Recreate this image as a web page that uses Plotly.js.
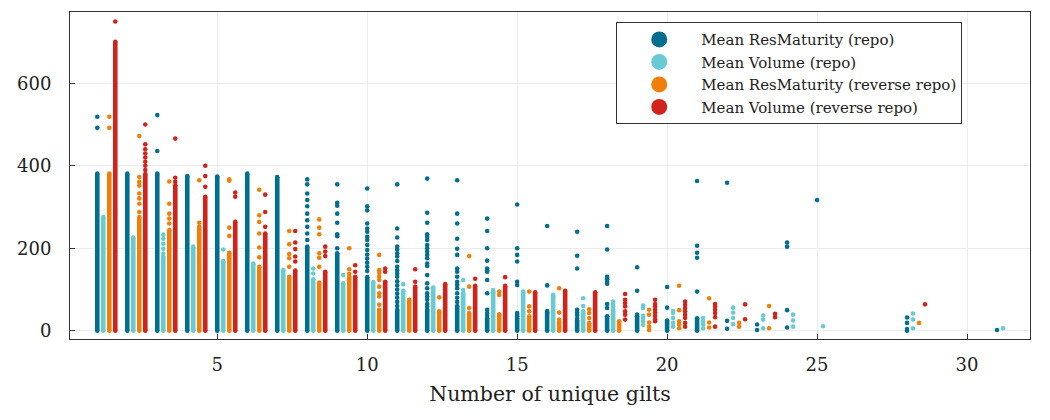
<!DOCTYPE html>
<html>
<head>
<meta charset="utf-8">
<script src="https://cdn.plot.ly/plotly-3.0.1.min.js"></script>
<style>html,body{margin:0;padding:0;background:#fff;}#chart{width:1050px;height:420px;}</style>
</head>
<body>
<div id="chart"></div>
<script>
// ---- Data ----
const seriesNames = [
  "Mean ResMaturity (repo)",
  "Mean Volume (repo)",
  "Mean ResMaturity (reverse repo)",
  "Mean Volume (reverse repo)"
];
// Group numbers (number of unique gilts) that have a dense, continuous band of values from 0 up to a top value
const repoMatBandG   = [1,2,3,4,5,6,7,8,9,10,11,12,13,14,15,16,17,18,19,20,21];
const repoMatBandTop = [381,381,381,375,374,381,373,204,188,130,51,51,60,31,31,44,25,35,35,25,30];
const repoVolBandG   = [1,2,3,4,5,6,7,8,9,10,11,12,13,14,15,16,17,18];
const repoVolBandTop = [276,226,180,204,169,163,147,125,115,118,97,105,91,95,93,85,47,47];
const revMatBandG    = [1,2,3,4,5,6,7,8,9,10,11,12,13,14,15,16,17,18];
const revMatBandTop  = [381,276,244,252,189,155,131,117,131,51,75,44,43,38,35,22,19,23];
const revVolBandG    = [1,2,3,4,5,6,7,8,9,10,11,12,13,14,15,16,17];
const revVolBandTop  = [701,380,353,325,264,236,146,143,131,119,107,113,109,109,93,97,93];

// Individual (sparse) points: group number and value
const repoMatPtsG = [1,1,3,3,
  8,8,8,8,8,8,8,8,8,8,
  9,9,9,9,9,9,9,9,
  10,10,10,10,10,10,10,10,10,10,10,10,10,10,10,
  11,11,11,11,11,11,11,11,11,11,11,11,11,11,11,11,11,11,11,
  12,12,12,12,12,12,12,12,12,12,12,12,12,12,12,12,12,12,12,12,12,
  13,13,13,13,13,13,13,13,13,13,13,13,13,13,13,
  14,14,14,14,14,14,14,14,14,14,14,14,
  15,15,15,15,15,15,15,15,15,
  16,16,16,
  17,17,17,17,17,17,17,
  18,18,18,18,18,18,18,18,
  19,19,19,
  20,20,
  21,21,21,21,21,
  22,22,22,
  23,23,
  24,24,24,24,
  25,
  28,28,28,28,
  31];
const repoMatPtsV = [519,492,523,436,
  367,355,333,317,302,284,268,252,236,220,
  355,310,303,284,262,234,229,200,
  345,302,292,260,248,240,228,220,208,196,185,175,165,155,145,
  355,248,226,204,197,188,180,169,155,147,139,131,120,110,100,90,80,70,60,
  369,286,262,234,228,220,208,200,192,184,176,163,157,135,115,103,91,83,75,65,58,
  365,284,260,223,199,184,151,143,131,119,111,103,91,80,70,
  272,242,200,170,151,147,143,123,91,51,43,38,
  306,200,184,168,119,111,43,39,35,
  254,110,48,
  240,182,151,51,44,38,30,
  254,197,131,125,119,114,65,55,
  154,97,39,
  106,56,
  363,206,189,177,95,
  359,24,5,
  15,2,
  214,204,50,8,
  317,
  32,19,4,0,
  2];

const repoVolPtsG = [3,3,3,3,3, 5, 8,8, 9, 11, 13,13, 14, 15, 16, 17,17, 18,18,18,18,
  19,19,19,19,19,19, 20,20,20,20,20, 21,21,21,21, 22,22,22,22, 23,23,23, 24,24,24, 25, 28,28,28, 31];
const repoVolPtsV = [233,223,211,199,187, 197, 151,139, 135, 113, 123,99, 99, 95, 87, 79,60, 71,65,59,52,
  61,55,36,31,23,14, 48,43,31,19,10, 31,23,15,6, 56,44,31,16, 37,27,6, 39,25,10, 11, 42,27,6, 6];

const revMatPtsG = [1,1, 2,2,2,2,2,2,2,2, 3,3,3,3,3, 4,4, 5,5,5,5, 6,6,6,6,6,6, 7,7,7,7,7, 8,8,8,8,8,8, 9,9,9,
  10,10,10,10,10,10,10,10,10, 12,12, 13,13,13, 14,14,14, 15,15,15, 16,16,16, 17,17,17,
  19,19,19,19,19, 20,20,20,20,20, 21,21,21, 22,22, 23,23, 28];
const revMatPtsV = [519,492, 472,373,361,352,333,321,308,288, 362,308,284,272,260, 365,262, 367,364,250,230,
  342,280,264,236,202,178, 242,210,186,176,155, 270,250,234,188,177,155, 200,149,138,
  184,147,140,131,123,107,91,83,63, 81,47, 181,107,55, 95,87,40, 95,59,47, 103,44,27, 52,43,31,
  51,39,20,10,2, 109,50,23,15,6, 79,20,8, 19,10, 60,6, 19];

const revVolPtsG = [1, 2,2,2,2,2,2,2,2, 3,3,3, 4,4,4, 5,5, 6,6,6, 7,7,7,7,7, 8,8,8, 9,9, 10,10, 11,11, 13, 14,
  18,18,18,18,18,18,18, 19,19,19,19,19,19,19,19, 20,20,20,20,20,20,20,20, 21,21,21,21,21,21, 22,22, 23,23, 28];
const revVolPtsV = [750, 500,452,440,430,420,410,400,390, 466,371,361, 400,375,349, 335,325, 330,288,252,
  242,214,198,180,168, 204,192,181, 159,143, 151,143, 149,119, 126, 130,
  89,75,67,59,47,39,27, 75,65,59,51,44,36,28,23, 71,63,55,47,39,31,19,10, 65,59,51,43,33,10, 64,28, 41,33, 64];

const xTicks = [5,10,15,20,25,30];
const yTicks = [0,200,400,600];

// ---- Styling ----
const colors = ["#006e8e", "#6acad4", "#f07f0a", "#d0231c"];
const offsets = [0, 0.2, 0.4, 0.6];
const bands = [[repoMatBandG, repoMatBandTop],[repoVolBandG, repoVolBandTop],[revMatBandG, revMatBandTop],[revVolBandG, revVolBandTop]];
const pts = [[repoMatPtsG, repoMatPtsV],[repoVolPtsG, repoVolPtsV],[revMatPtsG, revMatPtsV],[revVolPtsG, revVolPtsV]];

const traces = [];
for (let s = 0; s < 4; s++) {
  const bx = [], by = [];
  bands[s][0].forEach((g, i) => {
    bx.push(g + offsets[s], g + offsets[s], null);
    by.push(0, bands[s][1][i], null);
  });
  traces.push({
    type: "scatter", mode: "lines+markers", x: bx, y: by,
    line: {color: colors[s], width: 4.6},
    marker: {color: colors[s], size: 4.6},
    showlegend: false, hoverinfo: "skip", cliponaxis: false
  });
  traces.push({
    type: "scatter", mode: "markers",
    x: pts[s][0].map(g => g + offsets[s]), y: pts[s][1],
    marker: {color: colors[s], size: 4.6},
    showlegend: false, hoverinfo: "skip"
  });
}
// legend entries
for (let s = 0; s < 4; s++) {
  traces.push({
    type: "scatter", mode: "markers", x: [null], y: [null], name: seriesNames[s],
    marker: {color: colors[s], size: 16}, showlegend: true
  });
}

const font = "DejaVu Serif, Liberation Serif, serif";
const layout = {
  width: 1050, height: 420,
  margin: {l: 70, r: 20, t: 12, b: 81},
  paper_bgcolor: "#fff", plot_bgcolor: "#fff",
  font: {family: font, color: "#222"},
  showlegend: true,
  legend: {
    x: 0.569, y: 0.969, xanchor: "left", yanchor: "top",
    bgcolor: "#fff", bordercolor: "#333", borderwidth: 1,
    font: {family: font, size: 15, color: "#222"},
    itemwidth: 74, tracegroupgap: 0
  },
  xaxis: {
    range: [0.09, 32.1], tickvals: xTicks, ticktext: xTicks.map(String),
    ticks: "inside", ticklen: 5, tickcolor: "#333",
    showgrid: true, gridcolor: "#ececec", gridwidth: 1, zeroline: false,
    showline: true, linecolor: "#333", linewidth: 1, mirror: true,
    tickfont: {family: font, size: 18, color: "#222"},
    ticklabelstandoff: 9,
    title: {text: "Number of unique gilts", font: {family: font, size: 20.5, color: "#222"}, standoff: 13}
  },
  yaxis: {
    range: [-20, 773], tickvals: yTicks, ticktext: yTicks.map(String),
    ticks: "inside", ticklen: 5, tickcolor: "#333",
    showgrid: true, gridcolor: "#ececec", gridwidth: 1, zeroline: false,
    showline: true, linecolor: "#333", linewidth: 1, mirror: true,
    tickfont: {family: font, size: 18, color: "#222"},
    ticklabelstandoff: 14
  }
};

Plotly.newPlot("chart", traces, layout, {displayModeBar: false, staticPlot: true});
</script>
</body>
</html>
